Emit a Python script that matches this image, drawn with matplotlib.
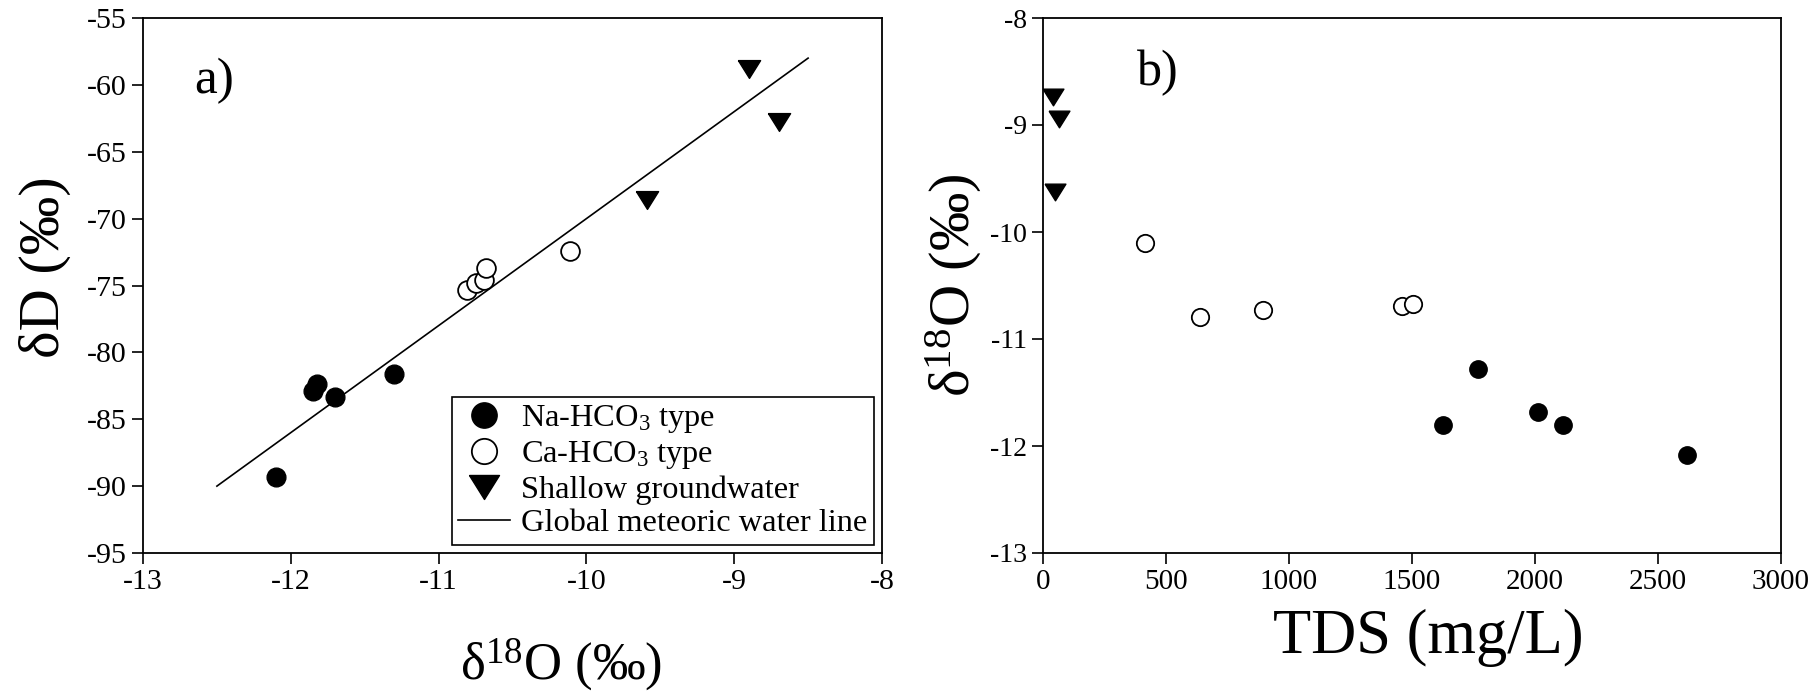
import numpy as np
import matplotlib
matplotlib.use('Agg')
import matplotlib.pyplot as plt

plt.rcParams['font.family'] = ['Liberation Serif', 'DejaVu Serif']
plt.rcParams['mathtext.fontset'] = 'custom'
plt.rcParams['mathtext.rm'] = 'Liberation Serif'
plt.rcParams['mathtext.it'] = 'Liberation Serif:italic'
plt.rcParams['axes.unicode_minus'] = False

# panel a: d18O vs dD
na_o18 = [-12.1, -11.85, -11.82, -11.7, -11.3]
na_dD = [-89.3, -82.9, -82.4, -83.3, -81.6]
ca_o18 = [-10.81, -10.75, -10.69, -10.68, -10.11]
ca_dD = [-75.3, -74.8, -74.6, -73.7, -72.4]
sh_o18 = [-8.9, -8.7, -9.59]
sh_dD = [-58.8, -62.75, -68.6]
gmwl_x = [-12.5, -8.5]

# panel b: TDS vs d18O
na_tds = [1625, 1767, 2011, 2113, 2619]
na_o18_b = [-11.8, -11.28, -11.68, -11.8, -12.08]
ca_tds = [415, 639, 896, 1460, 1505]
ca_o18_b = [-10.1, -10.79, -10.73, -10.69, -10.67]
sh_tds = [40, 65, 48]
sh_o18_b = [-8.74, -8.94, -9.63]

tri = [(-1, 0.8), (1, 0.8), (0, -0.8), (-1, 0.8)]

fig = plt.figure(figsize=(18.2, 6.96), dpi=100)
ax1 = fig.add_axes([143/1820, 143/696, 739/1820, 535/696])
ax2 = fig.add_axes([1043/1820, 143/696, 738/1820, 535/696])

# --- a)
ax1.plot(na_o18, na_dD, 'o', color='black', ms=13.5, ls='none', label='Na-HCO$_3$ type')
ax1.plot(ca_o18, ca_dD, 'o', mfc='white', mec='black', mew=1.3, ms=13.5, ls='none',
         label='Ca-HCO$_3$ type')
ax1.plot(sh_o18, sh_dD, marker=tri, color='black', ms=16, ls='none', label='Shallow groundwater')
gx = np.array(gmwl_x)
ax1.plot(gx, 8 * gx + 10, color='black', lw=1.2, label='Global meteoric water line')
ax1.set_xlim(-13, -8)
ax1.set_ylim(-95, -55)
ax1.set_xticks([-13, -12, -11, -10, -9, -8])
ax1.set_yticks(np.arange(-95, -54, 5))
ax1.set_xlabel('δ$^{18}$O (‰)', fontsize=38)
ax1.xaxis.set_label_coords(0.566, -0.155)
ax1.set_ylabel('δD (‰)', fontsize=42)
ax1.yaxis.set_label_coords(-0.097, 0.535)
ax1.text(0.07, 0.86, 'a)', transform=ax1.transAxes, fontsize=37)
leg = ax1.legend(loc='lower right', fontsize=23.3, frameon=True, fancybox=False,
                 edgecolor='black', framealpha=1, borderaxespad=0.25, borderpad=0.2,
                 labelspacing=0.12, handlelength=1.6, handletextpad=0.35, markerscale=1.35)
leg.get_frame().set_linewidth(1.2)

# --- b)
ax2.plot(na_tds, na_o18_b, 'o', color='black', ms=12.5, ls='none')
ax2.plot(ca_tds, ca_o18_b, 'o', mfc='white', mec='black', mew=1.3, ms=12.5, ls='none')
ax2.plot(sh_tds, sh_o18_b, marker=tri, color='black', ms=15, ls='none')
ax2.set_xlim(0, 3000)
ax2.set_ylim(-13, -8)
ax2.set_xticks(np.arange(0, 3001, 500))
ax2.set_yticks([-13, -12, -11, -10, -9, -8])
ax2.set_xlabel('TDS (mg/L)', fontsize=45)
ax2.xaxis.set_label_coords(0.522, -0.105)
ax2.set_ylabel('δ$^{18}$O (‰)', fontsize=42, labelpad=4)
ax2.text(0.128, 0.875, 'b)', transform=ax2.transAxes, fontsize=36)

for ax in (ax1, ax2):
    for s in ax.spines.values():
        s.set_linewidth(1.3)
    ax.tick_params(direction='out', length=8, width=1.2, top=False, right=False)
ax1.tick_params(labelsize=21.5)
ax2.tick_params(axis='y', labelsize=20)
ax2.tick_params(axis='x', labelsize=21)

fig.savefig('out.png', dpi=100)
